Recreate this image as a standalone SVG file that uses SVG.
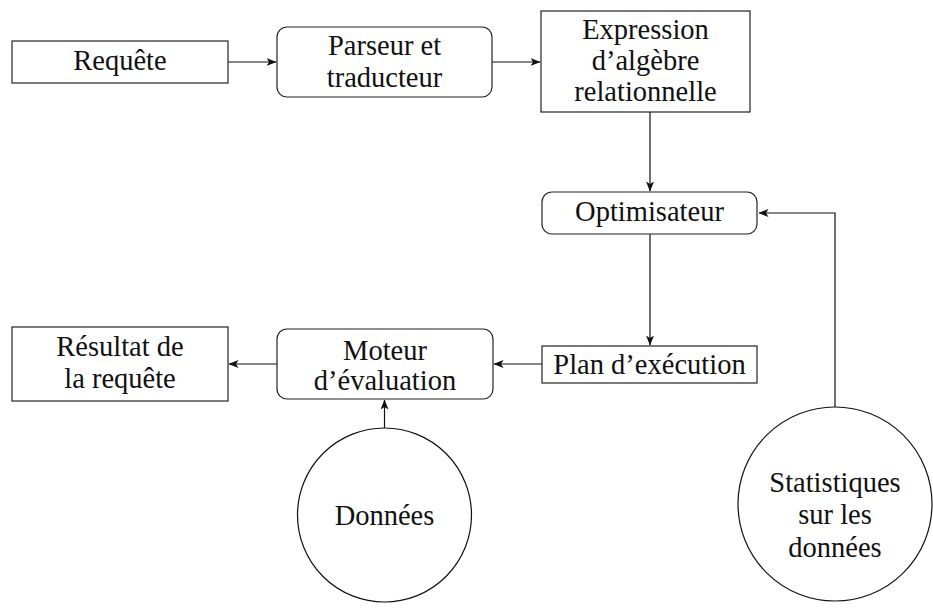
<svg xmlns="http://www.w3.org/2000/svg" width="933" height="611" viewBox="0 0 933 611">
  <style>
    .box { fill: #ffffff; stroke: #222; stroke-width: 1.2; }
    .circ { fill: #ffffff; stroke: #111; stroke-width: 1.2; }
    .lbl { font-family: "Liberation Serif", "Times New Roman", serif; font-size: 28.5px; fill: #111; text-anchor: middle; }
    .edge { fill: none; stroke: #111; stroke-width: 1.2; marker-end: url(#arr); }
  </style>
  <defs>
    <!-- small stealth-style arrow tip -->
    <marker id="arr" viewBox="0 0 10 8" refX="9.5" refY="4" markerWidth="10" markerHeight="8" markerUnits="userSpaceOnUse" orient="auto">
      <path d="M0,0 L10,4 L0,8 L2.5,4 Z" fill="#111"/>
    </marker>
  </defs>

  <g id="connectors">
    <path class="edge" d="M228,62 H276"/>
    <path class="edge" d="M492,62 H540"/>
    <path class="edge" d="M650,112 V191"/>
    <path class="edge" d="M650,234 V345"/>
    <path class="edge" d="M835,407 V213 H759"/>
    <path class="edge" d="M542,364 H494"/>
    <path class="edge" d="M277,364 H229"/>
    <path class="edge" d="M384.5,428 V400"/>
  </g>

  <g id="requete">
    <rect class="box" x="12" y="41" width="216" height="42"/>
    <text class="lbl" x="120" y="70">Requête</text>
  </g>

  <g id="parseur">
    <rect class="box" x="277" y="27" width="215" height="70" rx="10"/>
    <text class="lbl" x="384.5" y="55">Parseur et</text>
    <text class="lbl" x="384.5" y="87">traducteur</text>
  </g>

  <g id="expression">
    <rect class="box" x="541" y="11" width="209" height="101"/>
    <text class="lbl" x="645.5" y="39">Expression</text>
    <text class="lbl" x="645.5" y="70">d’algèbre</text>
    <text class="lbl" x="645.5" y="101">relationnelle</text>
  </g>

  <g id="optimisateur">
    <rect class="box" x="542" y="192" width="215" height="42" rx="10"/>
    <text class="lbl" x="649.5" y="221">Optimisateur</text>
  </g>

  <g id="plan">
    <rect class="box" x="542" y="346" width="215" height="37"/>
    <text class="lbl" x="649.5" y="374">Plan d’exécution</text>
  </g>

  <g id="moteur">
    <rect class="box" x="277" y="329" width="216" height="70" rx="10"/>
    <text class="lbl" x="385" y="360">Moteur</text>
    <text class="lbl" x="385" y="390">d’évaluation</text>
  </g>

  <g id="resultat">
    <rect class="box" x="12" y="327" width="216" height="74"/>
    <text class="lbl" x="120" y="356">Résultat de</text>
    <text class="lbl" x="120" y="388">la requête</text>
  </g>

  <g id="donnees">
    <circle class="circ" cx="384.5" cy="515" r="87"/>
    <text class="lbl" x="384.5" y="525">Données</text>
  </g>

  <g id="statistiques">
    <circle class="circ" cx="835" cy="504" r="97"/>
    <text class="lbl" x="835" y="492">Statistiques</text>
    <text class="lbl" x="835" y="524">sur les</text>
    <text class="lbl" x="835" y="557">données</text>
  </g>
</svg>
